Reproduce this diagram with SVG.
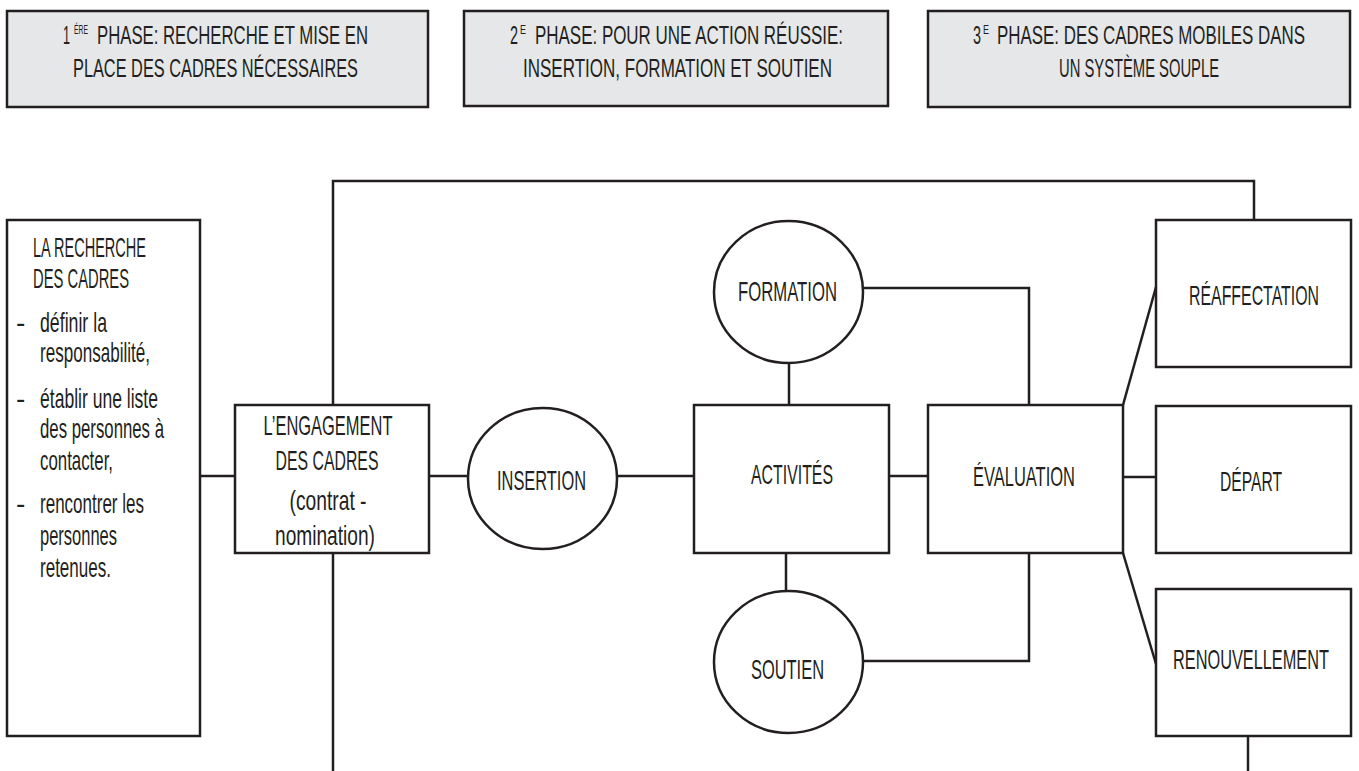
<svg xmlns="http://www.w3.org/2000/svg" width="1359" height="771" viewBox="0 0 1359 771">
<style>
.box{fill:#ffffff;stroke:#231f20;stroke-width:2.5}
.hdr{fill:#e6e7e8;stroke:#231f20;stroke-width:2.5}
.ell{fill:#ffffff;stroke:#231f20;stroke-width:2.5}
.con{fill:none;stroke:#231f20;stroke-width:2.5}
text{font-family:"Liberation Sans",Arial,sans-serif;fill:#231f20}
.t{font-size:28px}
.h{font-size:26px}
.s{font-size:12px}
.m{text-anchor:middle}
</style>
<rect width="1359" height="771" fill="#ffffff"/>
<g id="connectors">
<polyline class="con" points="333,405 333,181 1254,181 1254,220"/>
<line class="con" x1="333" y1="553" x2="333" y2="771"/>
<line class="con" x1="200" y1="476" x2="235" y2="476"/>
<line class="con" x1="429" y1="476" x2="468" y2="476"/>
<line class="con" x1="617" y1="476" x2="694" y2="476"/>
<line class="con" x1="789" y1="363" x2="789" y2="405"/>
<line class="con" x1="786" y1="553" x2="786" y2="591"/>
<polyline class="con" points="863,288 1029,288 1029,405"/>
<polyline class="con" points="863,661 1029,661 1029,553"/>
<line class="con" x1="889" y1="476" x2="928" y2="476"/>
<line class="con" x1="1123" y1="477" x2="1156" y2="477"/>
<line class="con" x1="1123" y1="405" x2="1156" y2="287"/>
<line class="con" x1="1123" y1="553" x2="1156" y2="664"/>
<line class="con" x1="1248" y1="736" x2="1248" y2="771"/>
</g>
<g id="phase1">
<rect class="hdr" x="7" y="11" width="421" height="96"/>
<text class="h"><tspan x="63" y="44" textLength="7" lengthAdjust="spacingAndGlyphs">1</tspan><tspan class="s" x="74" y="34" textLength="14" lengthAdjust="spacingAndGlyphs">ÉRE</tspan><tspan x="97" y="44" textLength="271" lengthAdjust="spacingAndGlyphs">PHASE: RECHERCHE ET MISE EN</tspan></text>
<text class="h" x="73" y="77" textLength="285" lengthAdjust="spacingAndGlyphs">PLACE DES CADRES NÉCESSAIRES</text>
</g>
<g id="phase2">
<rect class="hdr" x="464" y="11" width="424" height="95"/>
<text class="h"><tspan x="510" y="44" textLength="8" lengthAdjust="spacingAndGlyphs">2</tspan><tspan class="s" x="520" y="34" textLength="6" lengthAdjust="spacingAndGlyphs">E</tspan><tspan x="535" y="44" textLength="308" lengthAdjust="spacingAndGlyphs">PHASE: POUR UNE ACTION RÉUSSIE:</tspan></text>
<text class="h" x="523" y="77" textLength="309" lengthAdjust="spacingAndGlyphs">INSERTION, FORMATION ET SOUTIEN</text>
</g>
<g id="phase3">
<rect class="hdr" x="928" y="11" width="422" height="96"/>
<text class="h"><tspan x="973" y="44" textLength="8" lengthAdjust="spacingAndGlyphs">3</tspan><tspan class="s" x="983" y="34" textLength="6" lengthAdjust="spacingAndGlyphs">E</tspan><tspan x="997" y="44" textLength="308" lengthAdjust="spacingAndGlyphs">PHASE: DES CADRES MOBILES DANS</tspan></text>
<text class="h m" x="1139" y="77" textLength="160" lengthAdjust="spacingAndGlyphs">UN SYSTÈME SOUPLE</text>
</g>
<g id="recherche">
<rect class="box" x="7" y="220" width="193" height="516"/>
<text class="t" x="33" y="257" textLength="113" lengthAdjust="spacingAndGlyphs">LA RECHERCHE</text>
<text class="t" x="33" y="288" textLength="96" lengthAdjust="spacingAndGlyphs">DES CADRES</text>
<text class="t" x="16" y="332">-</text>
<text class="t" x="40" y="332" textLength="67" lengthAdjust="spacingAndGlyphs">définir la</text>
<text class="t" x="40" y="362" textLength="110" lengthAdjust="spacingAndGlyphs">responsabilité,</text>
<text class="t" x="16" y="408">-</text>
<text class="t" x="40" y="408" textLength="118" lengthAdjust="spacingAndGlyphs">établir une liste</text>
<text class="t" x="40" y="438" textLength="124" lengthAdjust="spacingAndGlyphs">des personnes à</text>
<text class="t" x="40" y="470" textLength="73" lengthAdjust="spacingAndGlyphs">contacter,</text>
<text class="t" x="16" y="513">-</text>
<text class="t" x="40" y="513" textLength="104" lengthAdjust="spacingAndGlyphs">rencontrer les</text>
<text class="t" x="40" y="545" textLength="77" lengthAdjust="spacingAndGlyphs">personnes</text>
<text class="t" x="40" y="577" textLength="71" lengthAdjust="spacingAndGlyphs">retenues.</text>
</g>
<g id="engagement">
<rect class="box" x="235" y="405" width="194" height="148"/>
<text class="t m" x="328" y="435" textLength="129" lengthAdjust="spacingAndGlyphs">L’ENGAGEMENT</text>
<text class="t m" x="327" y="470" textLength="103" lengthAdjust="spacingAndGlyphs">DES CADRES</text>
<text class="t m" x="328" y="510" textLength="77" lengthAdjust="spacingAndGlyphs">(contrat -</text>
<text class="t m" x="325" y="545" textLength="100" lengthAdjust="spacingAndGlyphs">nomination)</text>
</g>
<g id="insertion">
<ellipse class="ell" cx="542.5" cy="478.5" rx="74.5" ry="70.5"/>
<text class="t m" x="541.5" y="490" textLength="89" lengthAdjust="spacingAndGlyphs">INSERTION</text>
</g>
<g id="formation">
<ellipse class="ell" cx="788.5" cy="292" rx="74.5" ry="71"/>
<text class="t m" x="787.5" y="301" textLength="99" lengthAdjust="spacingAndGlyphs">FORMATION</text>
</g>
<g id="activites">
<rect class="box" x="694" y="405" width="195" height="148"/>
<text class="t m" x="792" y="484" textLength="82" lengthAdjust="spacingAndGlyphs">ACTIVITÉS</text>
</g>
<g id="soutien">
<ellipse class="ell" cx="788.5" cy="662" rx="74.5" ry="71"/>
<text class="t m" x="787.5" y="679" textLength="73" lengthAdjust="spacingAndGlyphs">SOUTIEN</text>
</g>
<g id="evaluation">
<rect class="box" x="928" y="405" width="195" height="148"/>
<text class="t m" x="1024" y="486" textLength="102" lengthAdjust="spacingAndGlyphs">ÉVALUATION</text>
</g>
<g id="reaffectation">
<rect class="box" x="1156" y="220" width="195" height="147"/>
<text class="t m" x="1254" y="305" textLength="130" lengthAdjust="spacingAndGlyphs">RÉAFFECTATION</text>
</g>
<g id="depart">
<rect class="box" x="1156" y="406" width="195" height="147"/>
<text class="t m" x="1251" y="491" textLength="62" lengthAdjust="spacingAndGlyphs">DÉPART</text>
</g>
<g id="renouvellement">
<rect class="box" x="1156" y="589" width="195" height="147"/>
<text class="t m" x="1251" y="669" textLength="156" lengthAdjust="spacingAndGlyphs">RENOUVELLEMENT</text>
</g>
</svg>
